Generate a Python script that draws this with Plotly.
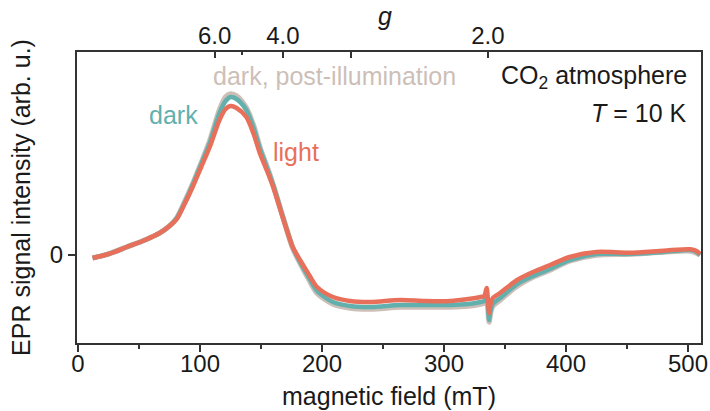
import plotly.graph_objects as go

# magnetic field (mT)
field = [12, 25, 40, 55, 67, 75, 81, 87, 94, 101, 108, 116, 121, 125, 130, 138, 144, 149, 155,
         160, 168, 176, 182, 190, 196, 209, 223, 240, 264, 285, 305, 320, 330, 333, 335, 336,
         337, 338, 340, 346, 360, 373, 387, 403, 425, 452, 480, 502, 507, 510]

# EPR signal (arb. u.)
light = [-0.03, 0.01, 0.08, 0.15, 0.22, 0.29, 0.36, 0.50, 0.68, 0.88, 1.08, 1.35, 1.46, 1.49,
         1.47, 1.38, 1.21, 1.02, 0.84, 0.68, 0.37, 0.08, -0.05, -0.21, -0.32, -0.42, -0.46,
         -0.47, -0.45, -0.46, -0.46, -0.44, -0.42, -0.41, -0.33, -0.45, -0.58, -0.50, -0.43,
         -0.38, -0.25, -0.17, -0.10, -0.02, 0.03, 0.023, 0.043, 0.057, 0.04, 0.01]

dark = [-0.03, 0.01, 0.08, 0.15, 0.22, 0.29, 0.37, 0.51, 0.70, 0.91, 1.12, 1.42, 1.54, 1.58,
        1.56, 1.45, 1.27, 1.07, 0.87, 0.70, 0.38, 0.08, -0.07, -0.24, -0.36, -0.47, -0.51,
        -0.52, -0.50, -0.50, -0.50, -0.49, -0.47, -0.46, -0.39, -0.50, -0.65, -0.57, -0.49,
        -0.43, -0.29, -0.21, -0.14, -0.05, 0.01, 0.01, 0.03, 0.05, 0.03, 0.0]

dark_post = [-0.03, 0.01, 0.08, 0.15, 0.22, 0.29, 0.37, 0.52, 0.71, 0.92, 1.14, 1.45, 1.58,
             1.61, 1.59, 1.47, 1.29, 1.08, 0.88, 0.70, 0.38, 0.07, -0.08, -0.26, -0.38,
             -0.49, -0.53, -0.54, -0.52, -0.52, -0.52, -0.51, -0.49, -0.48, -0.41, -0.52,
             -0.67, -0.59, -0.51, -0.45, -0.31, -0.22, -0.15, -0.06, 0.0, 0.01, 0.03, 0.04,
             0.02, 0.0]

# top axis: g values (B = h*nu / (g*muB), h*nu/muB ~ 672 mT)
g_major = [6.0, 4.0, 2.0]
g_labels = ["6.0", "4.0", "2.0"]
g_unlabeled = [3.0]
g_short = [5.0]
HNU_MUB = 672.0

x_ticks = [0, 100, 200, 300, 400, 500]

FONT = "Liberation Sans, Arial, sans-serif"
AX = "#333333"
C_LIGHT = "#e8705b"
C_DARK = "#62b0ae"
C_POST = "#cdbfb8"

fig = go.Figure()
fig.add_trace(go.Scatter(x=field, y=dark_post, mode="lines",
                         line=dict(color=C_POST, width=5.5, shape="spline", smoothing=0.8),
                         showlegend=False))
fig.add_trace(go.Scatter(x=field, y=dark, mode="lines",
                         line=dict(color=C_DARK, width=4.5, shape="spline", smoothing=0.8),
                         showlegend=False))
fig.add_trace(go.Scatter(x=field, y=light, mode="lines",
                         line=dict(color=C_LIGHT, width=4.5, shape="spline", smoothing=0.8),
                         showlegend=False))
# invisible traces to anchor top axes
for ax in ("x2", "x3"):
    fig.add_trace(go.Scatter(x=[field[0]], y=[light[0]], xaxis=ax, mode="markers",
                             marker=dict(opacity=0), showlegend=False, hoverinfo="skip"))

xr = [-0.8, 510.7]
fig.update_layout(
    width=710, height=411,
    margin=dict(l=77, r=9, t=52, b=68, autoexpand=False),
    paper_bgcolor="white", plot_bgcolor="white",
    font=dict(family=FONT, size=24, color="#1a1a1a"),
    xaxis=dict(range=xr, tickmode="array", tickvals=x_ticks, automargin=False,
               ticks="outside", ticklen=7, tickwidth=2, tickcolor=AX,
               ticklabelstandoff=-9,
               showline=True, linecolor=AX, linewidth=2, showgrid=False, zeroline=False,
               minor=dict(dtick=50, tick0=0, ticks="outside", ticklen=4, tickwidth=2, tickcolor=AX),
               tickfont=dict(size=24),
               title=dict(text="magnetic field (mT)", font=dict(size=25), standoff=12)),
    xaxis2=dict(range=xr, overlaying="x", side="top", tickmode="array", automargin=False,
                tickvals=[HNU_MUB / g for g in g_major], ticktext=g_labels,
                ticks="inside", ticklen=6, tickwidth=2, tickcolor=AX,
                ticklabelstandoff=-4,
                minor=dict(tickmode="array", tickvals=[HNU_MUB / g for g in g_unlabeled],
                           ticks="inside", ticklen=6, tickwidth=2, tickcolor=AX),
                showline=True, linecolor=AX, linewidth=2, showgrid=False, zeroline=False,
                tickfont=dict(size=24)),
    xaxis3=dict(range=xr, overlaying="x", side="top", tickmode="array", automargin=False,
                tickvals=[HNU_MUB / g for g in g_short], showticklabels=False,
                ticks="inside", ticklen=3, tickwidth=2, tickcolor=AX,
                showline=False, showgrid=False, zeroline=False),
    yaxis=dict(range=[-0.88, 2.03], tickmode="array", tickvals=[0], ticktext=["0"],
               automargin=False,
               ticks="outside", ticklen=7, tickwidth=2, tickcolor=AX,
               showline=True, linecolor=AX, linewidth=2, mirror=True,
               showgrid=False, zeroline=False, tickfont=dict(size=24),
               title=dict(text="EPR signal intensity (arb. u.)", font=dict(size=25), standoff=12)),
)

ann = [
    dict(text="<i>g</i>", x=0.494, y=1.0, yshift=36, xref="paper", yref="paper",
         xanchor="center", yanchor="middle", font=dict(size=25, color="#1a1a1a")),
    dict(text="CO<sub>2</sub> atmosphere", x=0.981, y=0.914, xref="paper", yref="paper",
         xanchor="right", yanchor="middle", font=dict(size=25, color="#1a1a1a")),
    dict(text="<i>T</i> = 10 K", x=0.981, y=0.790, xref="paper", yref="paper",
         xanchor="right", yanchor="middle", font=dict(size=25, color="#1a1a1a")),
    dict(text="dark, post-illumination", x=0.412, y=0.918, xref="paper", yref="paper",
         xanchor="center", yanchor="middle", font=dict(size=25, color=C_POST)),
    dict(text="dark", x=0.155, y=0.784, xref="paper", yref="paper",
         xanchor="center", yanchor="middle", font=dict(size=25, color=C_DARK)),
    dict(text="light", x=0.351, y=0.656, xref="paper", yref="paper",
         xanchor="center", yanchor="middle", font=dict(size=25, color=C_LIGHT)),
]
for a in ann:
    fig.add_annotation(showarrow=False, **a)

fig.write_html("out.html")
